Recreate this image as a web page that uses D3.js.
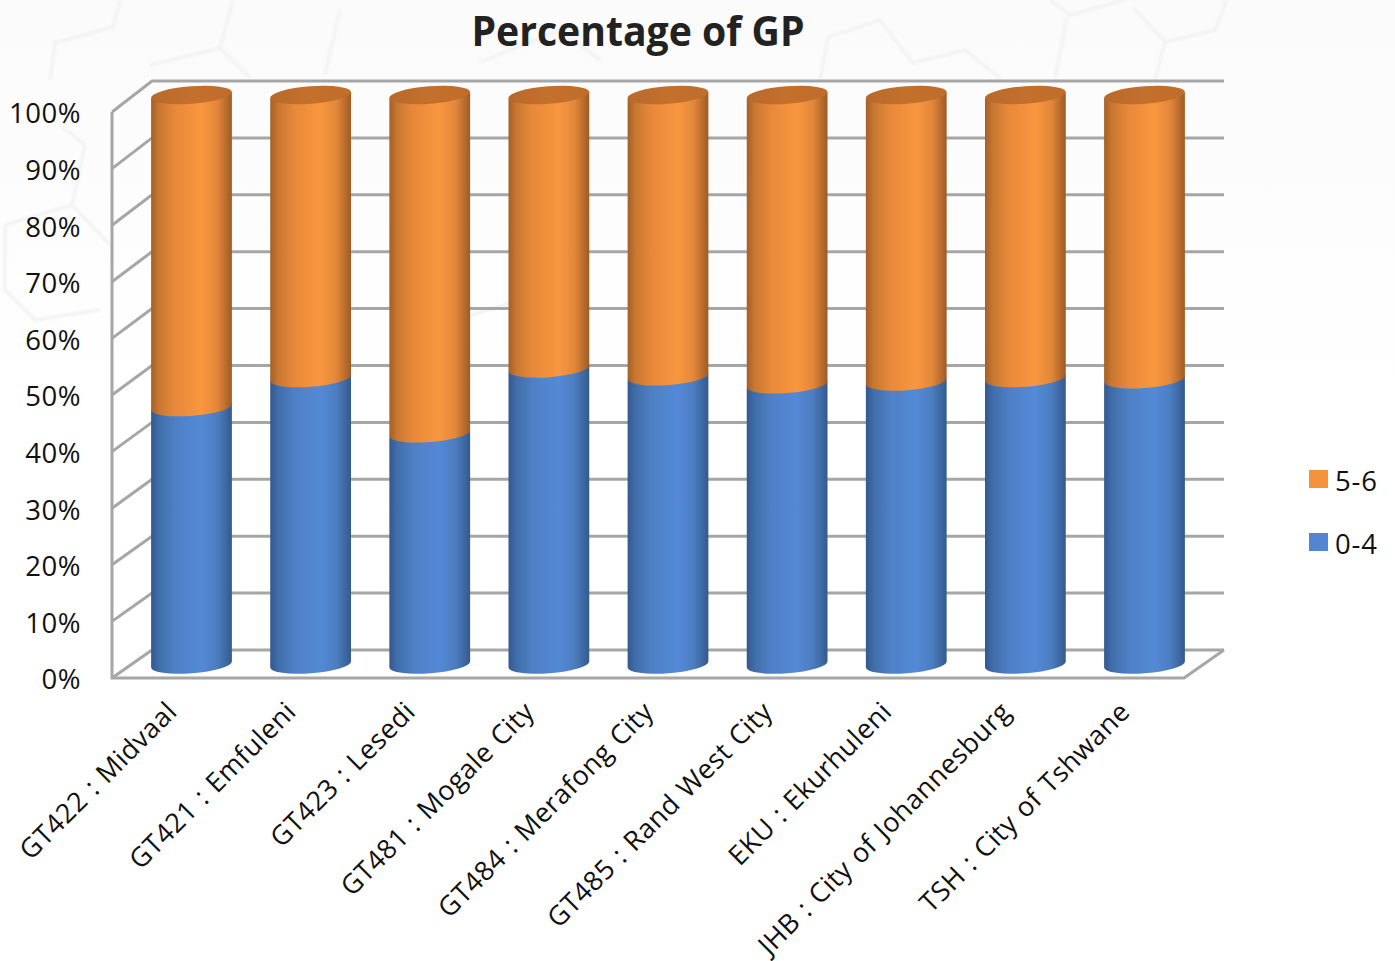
<!DOCTYPE html>
<html>
<head>
<meta charset="utf-8">
<script src="https://cdn.jsdelivr.net/npm/d3@7/dist/d3.min.js"></script>
<style>
html,body{margin:0;padding:0;background:#fff}
svg{display:block}
</style>
</head>
<body>
<svg id="chart" width="1395" height="961"></svg>
<script>
const categories = ["GT422 : Midvaal","GT421 : Emfuleni","GT423 : Lesedi","GT481 : Mogale City","GT484 : Merafong City","GT485 : Rand West City","EKU : Ekurhuleni","JHB : City of Johannesburg","TSH : City of Tshwane"];
const under5 = [45.2,50.3,40.6,52.0,50.6,49.2,49.7,50.3,50.1];
const fiveToSix = [54.8,49.7,59.4,48.0,49.4,50.8,50.3,49.7,49.9];
const percentTicks = [0,10,20,30,40,50,60,70,80,90,100];
const legendItems = [{name:"5-6",color:"#f5923c"},{name:"0-4",color:"#5286d2"}];

const svg = d3.select("#chart");
const FONT = "'Open Sans', sans-serif";
const GRID = "#a6a6a6";
const defs = svg.append("defs");

// Pale wash that fades out towards the lower part of the page
const wash = defs.append("linearGradient").attr("id","wash").attr("x1",0).attr("x2",0).attr("y1",0).attr("y2",1);
wash.append("stop").attr("offset",0).attr("stop-color","#fbfbfb");
wash.append("stop").attr("offset",0.55).attr("stop-color","#fdfdfd");
wash.append("stop").attr("offset",1).attr("stop-color","#ffffff");
svg.append("rect").attr("width",1395).attr("height",400).attr("fill","url(#wash)");

// Faint honeycomb texture behind the plot
defs.append("filter").attr("id","soft").append("feGaussianBlur").attr("stdDeviation",1.2);
const backdrop = svg.append("g").attr("fill","none").attr("stroke","#f3f3f3").attr("stroke-width",3.5).attr("filter","url(#soft)");
[[[120,0],[113,27],[55,43],[50,80]],[[233,0],[220,48],[150,65]],[[220,48],[250,78]],[[340,10],[325,75]],
 [[820,80],[828,37],[880,20],[913,63],[965,50],[1000,78]],[[1050,0],[1070,15],[1125,0]],[[1067,17],[1055,78]],
 [[1133,7],[1165,42],[1215,30],[1227,0]],[[1165,42],[1155,80]],
 [[60,125],[85,145],[72,205],[110,245]],[[5,225],[5,290],[35,320],[100,310]],[[72,205],[5,225]],
 [[480,62],[560,30],[600,60]],[[410,300],[440,325],[520,300]]]
  .forEach(p => backdrop.append("path").attr("d", d3.line()(p)));

const front = d3.scaleLinear().domain([0,100]).range([678,112]);
const back = d3.scaleLinear().domain([0,100]).range([650,81]);
const cyl = d3.scaleLinear().domain([0,100]).range([664.5,95]);
const x = d3.scalePoint().domain(categories).range([191.5,1144.5]);
const wall = {l:112, r:1184, bl:152, br:1224};

// Walls and gridlines of the 3D frame
const frame = svg.append("g").attr("fill","none").attr("stroke",GRID).attr("stroke-width",3);
percentTicks.forEach(t => {
  frame.append("path").attr("d", d3.line()([[wall.l,front(t)],[wall.bl,back(t)],[wall.br,back(t)]]));
});
frame.append("path").attr("d", d3.line()([[wall.l,front(100)],[wall.l,front(0)],[wall.r,front(0)],[wall.br,back(0)]]));

// Horizontal shading that gives the cylinders their roundness
function shade(id, stops){
  const g = defs.append("linearGradient").attr("id",id).attr("x1",0).attr("x2",1).attr("y1",0).attr("y2",0);
  stops.forEach(([o,c]) => g.append("stop").attr("offset",o).attr("stop-color",c));
}
shade("blueBody",[[0,"#33588f"],[0.1,"#416ea9"],[0.3,"#4e80c6"],[0.62,"#5389d6"],[0.82,"#4c7dc0"],[1,"#345a8e"]]);
shade("orangeBody",[[0,"#a55f27"],[0.1,"#c87832"],[0.3,"#e8893a"],[0.62,"#f9973f"],[0.82,"#e2873a"],[1,"#9e5b25"]]);
shade("orangeTop",[[0,"#b8692a"],[0.5,"#c4702d"],[1,"#c06c2a"]]);

const rx = 40.5, ry = 8.8, tilt = -4.3;
const dx = rx*Math.cos(tilt*Math.PI/180), dy = rx*Math.sin(-tilt*Math.PI/180);
function body(cx, v0, v1){
  const y0 = cyl(v0), y1 = cyl(v1);
  return `M${cx-dx},${y1+dy}L${cx-dx},${y0+dy}A${rx},${ry} ${tilt} 0 0 ${cx+dx},${y0-dy}L${cx+dx},${y1-dy}Z`;
}
const bars = svg.append("g").selectAll("g").data(categories).join("g");
bars.append("path").attr("fill","url(#blueBody)").attr("d",(d,i)=>body(x(d),0,under5[i]));
bars.append("path").attr("fill","url(#orangeBody)").attr("d",(d,i)=>body(x(d),under5[i],under5[i]+fiveToSix[i]));
bars.append("ellipse").attr("fill","url(#orangeTop)")
  .attr("cx",d=>x(d)).attr("cy",(d,i)=>cyl(under5[i]+fiveToSix[i])).attr("rx",rx).attr("ry",ry)
  .attr("transform",(d,i)=>`rotate(${tilt} ${x(d)} ${cyl(under5[i]+fiveToSix[i])})`);

// Percent axis
const yAxis = svg.append("g").attr("transform","translate(81,2)")
  .call(d3.axisLeft(front).tickValues(percentTicks).tickSize(0).tickPadding(0).tickFormat(d=>d+"%"));
yAxis.select(".domain").remove();
yAxis.selectAll("text").attr("font-family",FONT).attr("font-size",27.5).attr("letter-spacing",0.5).attr("fill","#111");

// Slanted category labels
svg.append("g").selectAll("text").data(categories).join("text")
  .attr("text-anchor","end").attr("font-family",FONT).attr("font-size",27)
  .attr("letter-spacing",0.4).attr("word-spacing",1.5).attr("fill","#111")
  .attr("transform",d=>`translate(${x(d)-13},${713.5}) rotate(-45)`)
  .text(d=>d);

// Title
svg.append("text").attr("x",638).attr("y",46).attr("text-anchor","middle")
  .attr("font-family",FONT).attr("font-weight",700).attr("font-size",41).attr("fill","#222")
  .attr("textLength",333).attr("lengthAdjust","spacingAndGlyphs")
  .text("Percentage of GP");

// Legend
const legend = svg.append("g").selectAll("g").data(legendItems).join("g")
  .attr("transform",(d,i)=>`translate(1309,${470+i*63})`);
legend.append("rect").attr("width",19).attr("height",18).attr("fill",d=>d.color);
legend.append("text").attr("x",26).attr("y",21).attr("font-family",FONT).attr("font-size",27.5)
  .attr("letter-spacing",0.8).attr("fill","#111").text(d=>d.name);
</script>
</body>
</html>
